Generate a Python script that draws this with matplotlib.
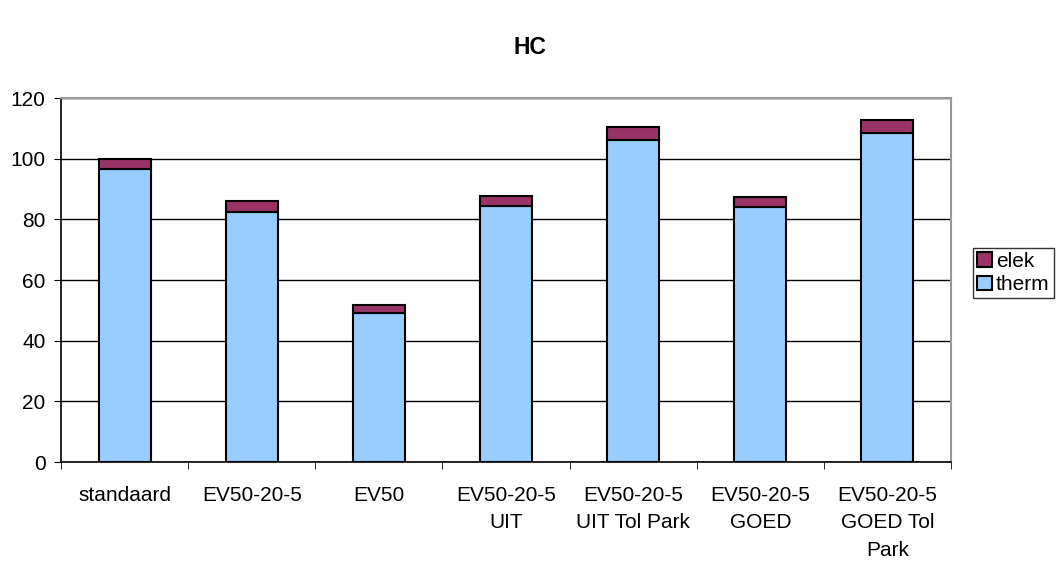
import matplotlib.pyplot as plt
import numpy as np

plt.rcParams['font.family'] = ['Liberation Sans', 'DejaVu Sans']

categories = ["standaard", "EV50-20-5", "EV50", "EV50-20-5\nUIT", "EV50-20-5\nUIT Tol Park",
              "EV50-20-5\nGOED", "EV50-20-5\nGOED Tol\nPark"]
therm = [96.5, 82.5, 49.2, 84.3, 106.2, 84.0, 108.4]
elek = [3.5, 3.4, 2.4, 3.4, 4.1, 3.3, 4.4]

fig = plt.figure(figsize=(10.58, 5.61), dpi=100)
ax = fig.add_axes([61 / 1058, 99 / 561, 890 / 1058, 364 / 561])

x = np.arange(len(categories))
b1 = ax.bar(x, therm, width=0.41, color="#99CCFF", edgecolor="black", linewidth=1.5, label="therm", zorder=3)
b2 = ax.bar(x, elek, width=0.41, bottom=therm, color="#993366", edgecolor="black", linewidth=1.5, label="elek", zorder=3)

ax.set_xlim(-0.5, len(categories) - 0.5)
ax.set_ylim(0, 120)
ax.set_yticks(range(0, 121, 20))
ax.yaxis.grid(True, color="black", linewidth=1)
ax.set_axisbelow(True)

ax.set_xticks(x)
ax.set_xticklabels(categories, fontsize=15, linespacing=1.58, va="top")
ax.tick_params(axis="x", length=0, pad=17)
ax.set_xticks(np.arange(-0.5, len(categories), 1), minor=True)
ax.tick_params(axis="x", which="minor", length=5, direction="out")
ax.tick_params(axis="y", labelsize=15, length=5, direction="out", pad=6)

for side in ["top", "right"]:
    ax.spines[side].set_color("#999999")
    ax.spines[side].set_linewidth(1.5)
ax.spines["left"].set_linewidth(1.2)
ax.spines["bottom"].set_linewidth(1.2)

fig.text(530 / 1058, 1 - 48 / 561, "HC", ha="center", va="center", fontsize=16.5, fontweight="bold")

leg = fig.legend([b2, b1], ["elek", "therm"], loc="center left", bbox_to_anchor=(973 / 1058, 1 - 273 / 561),
                 fontsize=15, frameon=True, fancybox=False, edgecolor="black", handlelength=0.7,
                 handleheight=0.7, handletextpad=0.2, borderpad=0.2, labelspacing=0.2, borderaxespad=0)
leg.get_frame().set_linewidth(1)

fig.savefig("out.png", dpi=100)
